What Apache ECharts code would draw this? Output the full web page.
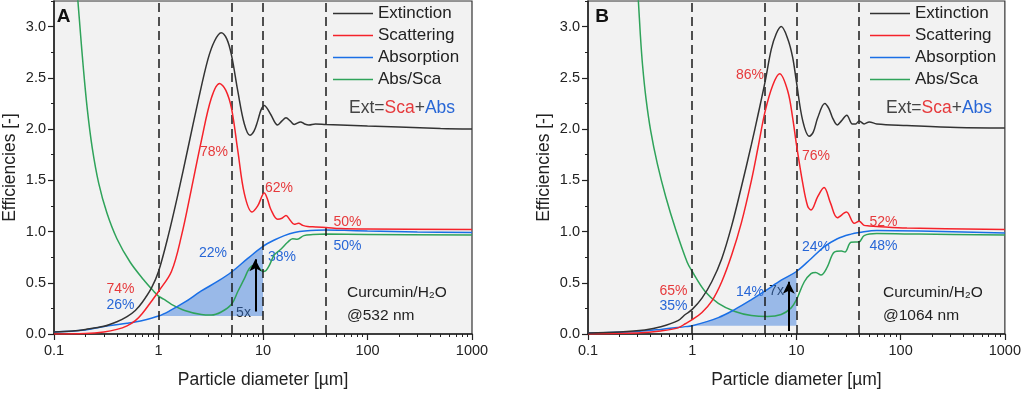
<!DOCTYPE html>
<html>
<head>
<meta charset="utf-8">
<script src="https://cdn.jsdelivr.net/npm/echarts@6/dist/echarts.min.js"></script>
<style>
html,body{margin:0;padding:0;background:#fff;}
#chart{width:1024px;height:394px;}
</style>
</head>
<body>
<div id="chart"></div>
<script>
// ---------- DATA (particle diameter [µm], efficiency) ----------
const xTickValues = [0.1, 1, 10, 100, 1000];
const xMinorTicks = [0.2,0.3,0.4,0.5,0.6,0.7,0.8,0.9,2,3,4,5,6,7,8,9,20,30,40,50,60,70,80,90,200,300,400,500,600,700,800,900];
const yTickValues = [0, 0.5, 1.0, 1.5, 2.0, 2.5, 3.0];
const yMinorTicks = [0.25, 0.75, 1.25, 1.75, 2.25, 2.75, 3.25];
const dashedDiameters = [1, 5, 10, 40];
const seriesNames = ['Extinction', 'Scattering', 'Absorption', 'Abs/Sca'];

// Panel A (@532 nm)
const A_ext = [[0.1,0.02],[0.15,0.03],[0.2,0.045],[0.3,0.075],[0.4,0.12],[0.5,0.17],[0.6,0.23],[0.7,0.31],[0.857,0.45],[1.0,0.61],[1.24,0.96],[1.54,1.37],[1.92,1.82],[2.39,2.27],[2.97,2.68],[3.44,2.86],[3.98,2.94],[4.5,2.88],[5.0,2.72],[5.74,2.37],[6.63,2.05],[7.5,1.94],[8.2,1.98],[8.9,2.08],[9.6,2.19],[10.3,2.23],[11.0,2.2],[11.9,2.14],[13.8,2.04],[15.2,2.08],[16.6,2.11],[18.2,2.08],[19.9,2.045],[22.9,2.07],[25,2.05],[27.5,2.04],[31.7,2.05],[40,2.045],[55,2.04],[100,2.03],[200,2.02],[500,2.005],[1000,2.0]];
const A_sca = [[0.1,0.0],[0.2,0.005],[0.3,0.02],[0.4,0.045],[0.5,0.08],[0.6,0.13],[0.7,0.2],[0.857,0.32],[1.0,0.415],[1.33,0.61],[1.66,0.96],[2.06,1.41],[2.57,1.885],[3.2,2.3],[3.84,2.445],[4.4,2.38],[5.0,2.2],[5.74,1.79],[6.63,1.37],[7.85,1.19],[8.9,1.25],[10.3,1.375],[11.0,1.32],[11.9,1.215],[13.8,1.12],[15.2,1.13],[16.6,1.157],[18.2,1.11],[19.9,1.07],[21.9,1.08],[24,1.06],[26.7,1.048],[32,1.045],[40,1.04],[55,1.03],[100,1.025],[1000,1.02]];
const A_abs = [[0.1,0.02],[0.2,0.04],[0.33,0.08],[0.5,0.105],[0.69,0.13],[1.0,0.175],[1.3,0.23],[1.78,0.31],[2.57,0.42],[3.7,0.515],[5.0,0.605],[7.1,0.735],[10,0.855],[13,0.92],[16,0.96],[20,0.99],[25,1.005],[40,1.015],[60,1.012],[100,1.005],[300,0.995],[1000,0.99]];
const A_ratio = [[0.15,3.9],[0.169,3.26],[0.179,2.94],[0.19,2.62],[0.208,2.2],[0.232,1.82],[0.268,1.47],[0.321,1.18],[0.4,0.93],[0.536,0.7],[0.72,0.53],[0.895,0.42],[1.0,0.37],[1.12,0.34],[1.33,0.29],[1.78,0.23],[2.57,0.19],[3.2,0.185],[3.98,0.215],[5.0,0.29],[5.74,0.415],[6.63,0.54],[7.4,0.64],[8.3,0.67],[9.2,0.64],[10,0.61],[10.7,0.62],[11.5,0.67],[12.8,0.77],[14.9,0.83],[17.2,0.895],[19.2,0.93],[21.3,0.925],[24.6,0.96],[30,0.97],[40,0.975],[100,0.972],[1000,0.965]];
const A_fillBase = 0.175;
const A_arrow = [8.45, 0.22, 0.73];

// Panel B (@1064 nm)
const B_ext = [[0.1,0.01],[0.2,0.02],[0.35,0.04],[0.5,0.07],[0.73,0.13],[0.857,0.19],[1.0,0.24],[1.24,0.35],[1.54,0.51],[1.92,0.735],[2.39,1.055],[2.97,1.44],[3.7,1.85],[4.28,2.14],[5.0,2.46],[5.74,2.78],[6.4,2.93],[7.14,3.0],[8.26,2.88],[9.2,2.7],[10,2.46],[11.5,2.08],[13.3,1.93],[14.5,1.97],[16,2.11],[18.7,2.25],[20.5,2.2],[22.2,2.11],[24.7,2.04],[27,2.08],[30.4,2.135],[34.4,2.05],[37,2.05],[40,2.08],[44.6,2.05],[50,2.07],[59,2.05],[115,2.035],[350,2.015],[1000,2.01]];
const B_sca = [[0.1,0.0],[0.3,0.01],[0.5,0.03],[0.73,0.06],[0.857,0.1],[1.0,0.14],[1.24,0.21],[1.54,0.32],[1.92,0.51],[2.39,0.77],[2.97,1.09],[3.7,1.5],[4.28,1.82],[5.0,2.17],[5.94,2.43],[6.9,2.54],[8.26,2.37],[9.2,2.11],[10,1.85],[11.5,1.47],[12.8,1.25],[13.8,1.21],[16,1.34],[18.4,1.43],[21.2,1.28],[24.7,1.135],[30.2,1.19],[35.9,1.08],[40,1.1],[44.6,1.06],[50,1.055],[59,1.05],[115,1.035],[1000,1.02]];
const B_abs = [[0.1,0.01],[0.3,0.025],[0.5,0.045],[0.857,0.072],[1.0,0.08],[1.78,0.16],[2.57,0.24],[3.7,0.335],[5.0,0.42],[7.14,0.525],[10,0.61],[13.8,0.735],[18.4,0.85],[24.7,0.93],[33.4,0.975],[40,0.99],[59,1.01],[150,1.005],[1000,0.985]];
const B_ratio = [[0.28,3.8],[0.304,3.26],[0.317,2.94],[0.334,2.62],[0.36,2.3],[0.4,1.98],[0.463,1.66],[0.557,1.34],[0.694,1.02],[0.895,0.7],[1.0,0.61],[1.33,0.415],[1.78,0.3],[2.57,0.22],[3.7,0.18],[5.3,0.17],[7.14,0.19],[8.9,0.255],[10,0.335],[11.9,0.51],[13.8,0.59],[15.3,0.6],[17.2,0.575],[19.8,0.655],[23.1,0.8],[27,0.81],[29.2,0.8],[33.4,0.895],[40,0.9],[44.6,0.96],[59,0.98],[150,0.975],[1000,0.965]];
const B_fillBase = 0.08;
const B_arrow = [8.45, 0.03, 0.51];

// ---------- STYLE ----------
const C = {ext:'#333333', sca:'#f5222a', abs:'#1a6fe6', ratio:'#2fa35a', txtRed:'#e63a3c', txtBlue:'#2766d6', axis:'#222'};
const FONT = '"Liberation Sans", Arial, Helvetica, sans-serif';

const chart = echarts.init(document.getElementById('chart'), null, {renderer:'canvas'});

function fmtNum(v){ return String(Number(v.toPrecision(6))); }

function mainX(gi){
  return {
    type:'log', logBase:10, gridIndex:gi, min:0.1, max:1000, position:'bottom',
    axisLine:{show:true, onZero:false, lineStyle:{color:C.axis, width:1.5}},
    axisTick:{show:true, inside:false, length:6, lineStyle:{color:C.axis, width:1.2}, customValues: xTickValues},
    axisLabel:{show:true, margin:9, fontSize:14.5, color:C.axis, fontFamily:FONT, formatter:fmtNum, customValues: xTickValues},
    splitLine:{show:false}, minorTick:{show:false},
    name:'Particle diameter [µm]', nameLocation:'middle', nameGap:37,
    nameTextStyle:{fontSize:17.5, color:C.axis, fontFamily:FONT}
  };
}
function minorX(gi){
  return {
    type:'log', logBase:10, gridIndex:gi, min:0.1, max:1000, position:'bottom', offset:0,
    axisLine:{show:false},
    axisTick:{show:true, inside:false, length:3, lineStyle:{color:C.axis, width:1}, customValues: xMinorTicks},
    axisLabel:{show:false}, splitLine:{show:false}
  };
}
function mainY(gi){
  return {
    type:'value', gridIndex:gi, min:0, max:3.25, position:'left',
    axisLine:{show:true, onZero:false, lineStyle:{color:C.axis, width:1.5}},
    axisTick:{show:true, inside:false, length:6, lineStyle:{color:C.axis, width:1.2}, customValues: yTickValues},
    axisLabel:{show:true, margin:8, fontSize:14.5, color:C.axis, fontFamily:FONT, formatter:v=>v.toFixed(1), customValues: yTickValues},
    splitLine:{show:false},
    name:'Efficiencies [-]', nameLocation:'middle', nameGap:35,
    nameTextStyle:{fontSize:17.5, color:C.axis, fontFamily:FONT}
  };
}
function minorY(gi){
  return {
    type:'value', gridIndex:gi, min:0, max:3.25, position:'left', offset:0,
    axisLine:{show:false},
    axisTick:{show:true, inside:false, length:3, lineStyle:{color:C.axis, width:1}, customValues: yMinorTicks},
    axisLabel:{show:false}, splitLine:{show:false}
  };
}

function lineSeries(name, data, color, xi, yi, z){
  return {name, type:'line', data, xAxisIndex:xi, yAxisIndex:yi, symbol:'none', smooth:0.35,
    lineStyle:{color, width:1.5}, itemStyle:{color}, z:z||3, silent:true, animation:false, clip:true};
}

function panelSeries(ext, sca, abs, ratio, fillBase, arrow, xi, yi){
  const fillData = abs.filter(p => p[0] >= 1 && p[0] <= 10);
  return [
    {type:'line', data:fillData, xAxisIndex:xi, yAxisIndex:yi, symbol:'none', smooth:0.35,
     lineStyle:{width:0}, areaStyle:{color:'rgba(64,128,222,0.5)', origin:fillBase, opacity:1},
     z:1, silent:true, animation:false,
     markLine:{silent:true, symbol:['none','arrow'], symbolSize:[9,12], animation:false,
       lineStyle:{color:'#000', width:2, type:'solid'}, label:{show:false},
       data:[[{coord:[arrow[0], arrow[1]]},{coord:[arrow[0], arrow[2]]}]]}},
    lineSeries('Abs/Sca', ratio, C.ratio, xi, yi, 3),
    lineSeries('Absorption', abs, C.abs, xi, yi, 4),
    lineSeries('Scattering', sca, C.sca, xi, yi, 5),
    Object.assign(lineSeries('Extinction', ext, C.ext, xi, yi, 6), {
      markLine:{silent:true, symbol:['none','none'], animation:false, label:{show:false},
        lineStyle:{color:'#1a1a1a', width:1.5, type:[9,5]},
        data: dashedDiameters.map(d => ({xAxis:d}))}
    })
  ];
}

function legendAt(left){
  return {orient:'vertical', left, top:5, padding:0, itemWidth:40, itemHeight:1.6, itemGap:5,
    data:seriesNames, selectedMode:false, icon:'rect',
    textStyle:{fontSize:17, color:C.axis, fontFamily:FONT, lineHeight:17}};
}

function txt(x, y, text, color, size, extra){
  return Object.assign({type:'text', x, y, silent:true,
    style:{text, fill:color, font: (size||14)+'px '+FONT, textAlign:'center', textVerticalAlign:'middle'}}, extra||{});
}
function richTxt(x, y, text, rich){
  return {type:'text', x, y, silent:true,
    style:{text, rich, textAlign:'left', textVerticalAlign:'middle', fontFamily:FONT}};
}
const eqRich = {
  k:{fill:'#444', fontSize:17.5, fontFamily:FONT},
  r:{fill:C.txtRed, fontSize:17.5, fontFamily:FONT},
  b:{fill:C.txtBlue, fontSize:17.5, fontFamily:FONT}
};
const curRich = { a:{fill:'#222', fontSize:15.5, fontFamily:FONT} };

const graphics = [
  // Panel A
  txt(63.5, 17, 'A', '#111', 19, {style:{text:'A', fill:'#111', font:'bold 19px '+FONT, textAlign:'center', textVerticalAlign:'middle'}}),
  richTxt(349, 108, '{k|Ext=}{r|Sca}{k|+}{b|Abs}', eqRich),
  txt(214, 152, '78%', C.txtRed), txt(279, 188, '62%', C.txtRed),
  txt(347.5, 222, '50%', C.txtRed), txt(347.5, 246, '50%', C.txtBlue),
  txt(282, 257, '38%', C.txtBlue), txt(213, 253, '22%', C.txtBlue),
  txt(120.5, 289, '74%', C.txtRed), txt(120.5, 305, '26%', C.txtBlue),
  txt(243.5, 313, '5x', '#111', 14),
  richTxt(347, 293, '{a|Curcumin/H₂O}', curRich),
  richTxt(347, 316, '{a|@532 nm}', curRich),
  // Panel B
  txt(602, 17, 'B', '#111', 19, {style:{text:'B', fill:'#111', font:'bold 19px '+FONT, textAlign:'center', textVerticalAlign:'middle'}}),
  richTxt(886, 108, '{k|Ext=}{r|Sca}{k|+}{b|Abs}', eqRich),
  txt(750, 75, '86%', C.txtRed), txt(816, 156, '76%', C.txtRed),
  txt(883.5, 222, '52%', C.txtRed), txt(883.5, 246, '48%', C.txtBlue),
  txt(816, 247, '24%', C.txtBlue), txt(750, 292, '14%', C.txtBlue),
  txt(673.5, 291, '65%', C.txtRed), txt(673.5, 306, '35%', C.txtBlue),
  txt(776.5, 291, '7x', '#111', 14),
  richTxt(883, 293, '{a|Curcumin/H₂O}', curRich),
  richTxt(883, 316, '{a|@1064 nm}', curRich)
];

const option = {
  animation:false,
  backgroundColor:'#ffffff',
  textStyle:{fontFamily:FONT},
  grid:[
    {left:52, right:552, top:1, bottom:54, show:true, backgroundColor:'#f2f2f2', borderColor:'#333', borderWidth:1.2, containLabel:false},
    {left:588, right:15, top:1, bottom:54, show:true, backgroundColor:'#f2f2f2', borderColor:'#333', borderWidth:1.2, containLabel:false}
  ],
  xAxis:[mainX(0), minorX(0), mainX(1), minorX(1)],
  yAxis:[mainY(0), minorY(0), mainY(1), minorY(1)],
  legend:[legendAt(333), legendAt(870)],
  series:[].concat(
    panelSeries(A_ext, A_sca, A_abs, A_ratio, A_fillBase, A_arrow, 0, 0),
    panelSeries(B_ext, B_sca, B_abs, B_ratio, B_fillBase, B_arrow, 2, 2)
  ),
  graphic:graphics
};
chart.setOption(option);
</script>
</body>
</html>
